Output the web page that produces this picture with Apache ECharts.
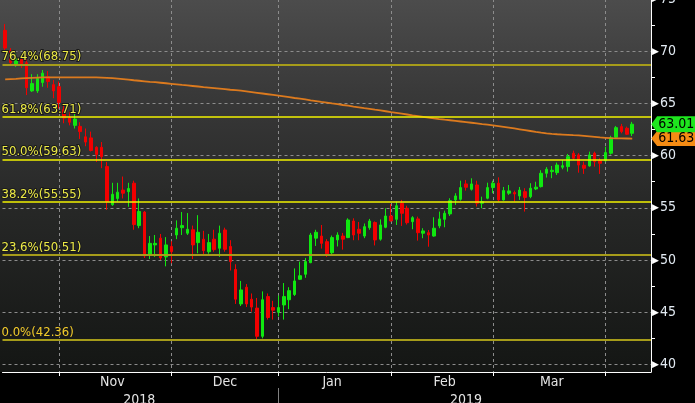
<!DOCTYPE html>
<html><head><meta charset="utf-8">
<script src="https://cdn.jsdelivr.net/npm/echarts@6/dist/echarts.min.js"></script>
<style>html,body{margin:0;padding:0;background:#000;overflow:hidden}#c{width:695px;height:403px}</style>
</head><body><div id="c"></div>
<script>
const dates = [
'2018-10-17','2018-10-18','2018-10-19','2018-10-22','2018-10-23','2018-10-24','2018-10-25','2018-10-26','2018-10-29','2018-10-30','2018-10-31',
'2018-11-01','2018-11-02','2018-11-05','2018-11-06','2018-11-07','2018-11-08','2018-11-09','2018-11-12','2018-11-13','2018-11-14','2018-11-15','2018-11-16','2018-11-19','2018-11-20','2018-11-21','2018-11-23','2018-11-26','2018-11-27','2018-11-28','2018-11-29','2018-11-30',
'2018-12-03','2018-12-04','2018-12-05','2018-12-06','2018-12-07','2018-12-10','2018-12-11','2018-12-12','2018-12-13','2018-12-14','2018-12-17','2018-12-18','2018-12-19','2018-12-20','2018-12-21','2018-12-24','2018-12-26','2018-12-27','2018-12-28','2018-12-31',
'2019-01-02','2019-01-03','2019-01-04','2019-01-07','2019-01-08','2019-01-09','2019-01-10','2019-01-11','2019-01-14','2019-01-15','2019-01-16','2019-01-17','2019-01-18','2019-01-22','2019-01-23','2019-01-24','2019-01-25','2019-01-28','2019-01-29','2019-01-30','2019-01-31',
'2019-02-01','2019-02-04','2019-02-05','2019-02-06','2019-02-07','2019-02-08','2019-02-11','2019-02-12','2019-02-13','2019-02-14','2019-02-15','2019-02-19','2019-02-20','2019-02-21','2019-02-22','2019-02-25','2019-02-26','2019-02-27','2019-02-28',
'2019-03-01','2019-03-04','2019-03-05','2019-03-06','2019-03-07','2019-03-08','2019-03-11','2019-03-12','2019-03-13','2019-03-14','2019-03-15','2019-03-18','2019-03-19','2019-03-20','2019-03-21','2019-03-22','2019-03-25','2019-03-26','2019-03-27','2019-03-28','2019-03-29',
'2019-04-01','2019-04-02','2019-04-03','2019-04-04','2019-04-05','2019-04-08','2019-04-09','2019-04-10'];

const opens = [72.0,70.0,68.7,69.2,68.9,66.2,66.2,67.0,67.55,66.8,
66.6,64.4,63.64,62.9,62.8,61.8,61.7,60.8,60.8,58.95,
55.3,55.9,56.7,56.55,57.36,53.3,54.6,50.5,51.45,52.1,
50.3,51.3,52.4,53.1,52.57,52.9,51.67,52.0,50.8,52.0,
51.13,52.88,51.3,49.1,45.8,47.4,46.25,45.4,42.7,46.5,
45.45,45.0,45.7,46.2,46.7,48.16,48.64,49.75,52.1,52.3,
51.76,50.7,51.93,52.3,52.15,53.74,52.95,52.3,53.1,53.6,
52.0,53.14,54.22,53.9,55.44,54.96,53.68,53.94,52.57,52.62,
52.3,53.27,53.9,54.42,55.76,55.82,57.29,56.78,57.19,55.44,
55.92,56.94,57.36,55.76,56.4,56.46,56.14,56.55,56.07,56.81,
57.03,58.31,58.47,58.37,58.89,58.95,60.23,60.07,59.08,59.01,
60.23,59.52,59.52,60.23,61.76,62.78,62.62,62.14];
const closes = [70.3,68.9,69.3,68.8,66.5,66.9,67.4,67.9,67.1,66.2,
65.1,63.6,63.2,63.5,62.3,61.3,60.5,60.1,59.9,55.6,
56.3,56.5,56.4,56.85,53.4,54.65,50.4,51.6,51.6,50.2,
51.45,50.8,53.05,53.3,52.95,51.45,52.66,50.9,51.67,51.0,
52.57,51.03,49.85,46.25,47.14,45.8,45.5,42.7,46.2,44.5,
45.2,45.45,46.5,47.07,48.0,48.5,49.85,52.4,52.66,51.6,
50.6,52.15,52.4,52.0,53.84,52.4,52.57,53.2,53.74,51.93,
53.36,54.22,53.75,55.2,54.48,53.58,54.06,52.62,52.79,52.4,
53.05,53.94,54.48,55.69,56.14,56.94,56.97,57.29,55.44,55.6,
56.94,57.36,55.76,56.65,56.62,56.33,56.7,56.0,56.88,56.98,
58.31,58.7,58.6,59.1,59.04,59.9,59.75,59.1,58.79,60.07,
59.43,59.27,60.29,61.72,62.68,62.3,62.05,63.01];
const lows = [70.0,68.6,68.5,68.4,65.8,66.1,66.0,66.6,66.5,65.5,
64.5,63.1,62.9,62.6,61.6,60.9,60.4,59.4,58.8,54.8,
55.2,55.6,55.9,55.1,52.9,53.05,50.2,50.1,50.3,50.0,
49.4,49.7,52.0,52.4,52.4,50.1,50.65,50.5,50.6,50.8,
50.3,50.8,49.0,45.8,45.6,45.5,45.06,42.36,42.5,44.3,
44.3,44.6,44.3,45.3,46.56,48.1,48.3,49.7,51.35,51.1,
50.3,50.5,51.3,51.0,52.1,51.9,51.9,52.1,52.9,51.4,
51.86,53.05,53.68,53.36,53.27,53.4,52.95,51.86,52.09,51.28,
52.24,53.05,53.14,54.22,55.28,55.69,56.65,56.65,55.12,54.96,
55.82,56.4,55.6,55.7,56.24,55.6,55.76,54.64,55.92,56.7,
56.95,57.9,57.84,58.15,58.7,58.47,59.59,58.37,58.25,58.95,
58.95,58.25,59.43,60.1,61.7,62.14,61.98,61.88];
const highs = [72.6,70.3,69.9,69.5,69.6,67.8,67.8,68.2,68.1,67.25,
67.1,64.85,64.2,64.1,63.2,62.6,62.3,60.9,61.3,59.4,
57.4,57.4,58.0,57.4,57.6,55.9,54.7,52.3,52.4,52.5,
52.2,51.8,53.8,54.6,54.5,53.3,54.3,52.8,52.5,52.9,
53.3,53.1,51.9,49.6,48.0,47.7,46.8,46.37,47.0,46.8,
46.1,46.6,47.8,47.4,49.2,49.85,50.2,52.6,52.9,53.36,
52.0,52.35,52.66,52.6,54.0,54.0,53.65,53.5,53.94,53.7,
53.9,54.96,55.37,55.6,55.76,55.2,54.2,54.16,53.05,52.88,
54.1,54.64,54.73,55.92,56.4,57.6,57.67,57.83,57.6,56.07,
57.41,57.6,57.92,57.0,57.19,56.65,57.0,56.88,57.36,57.5,
58.6,58.9,59.01,59.33,59.59,60.16,60.48,60.23,59.43,60.38,
60.38,59.75,60.86,61.9,62.84,63.04,62.78,63.23];
const ma200 = [67.3,67.33,67.36,67.4,67.43,67.45,67.47,67.49,67.5,67.5,
67.5,67.5,67.5,67.5,67.5,67.5,67.5,67.49,67.47,67.45,
67.42,67.38,67.33,67.28,67.22,67.17,67.12,67.07,67.03,66.98,
66.93,66.88,66.83,66.77,66.72,66.67,66.62,66.56,66.51,66.46,
66.41,66.36,66.31,66.27,66.23,66.16,66.09,66.02,65.95,65.88,
65.81,65.74,65.67,65.6,65.52,65.45,65.38,65.3,65.23,65.15,
65.08,65.0,64.93,64.85,64.78,64.7,64.63,64.55,64.48,64.4,
64.33,64.25,64.17,64.1,64.02,63.94,63.86,63.79,63.72,63.65,
63.57,63.5,63.44,63.39,63.33,63.27,63.21,63.15,63.09,63.02,
62.96,62.9,62.83,62.76,62.68,62.6,62.52,62.44,62.36,62.27,
62.2,62.14,62.09,62.05,62.02,61.99,61.96,61.94,61.9,61.85,
61.8,61.74,61.71,61.68,61.66,61.65,61.64,61.63];

const fibRatios = ['76.4%','61.8%','50.0%','38.2%','23.6%','0.0%'];
const fibLevels = [68.75, 63.71, 59.63, 55.55, 50.51, 42.36];
const monthLabelDates = ['2018-11-14','2018-12-14','2019-01-15','2019-02-14','2019-03-15'];
const monthLabels = ['Nov','Dec','Jan','Feb','Mar'];
const monthEndDates = ['2018-10-31','2018-11-30','2018-12-31','2019-01-31','2019-02-28','2019-03-29'];
const yearLabelDates = ['2018-11-21','2019-02-21'];
const yearLabels = ['2018','2019'];
const yearBoundaryDates = ['2018-12-31'];
const yTicks = [40,45,50,55,60,65,70,75];
const yMinorTicks = [42.5,47.5,52.5,57.5,62.5,67.5,72.5];
const lastPrice = 63.01;
const lastMA = 61.63;

const FONT = "'Liberation Sans Narrow','DejaVu Sans Condensed','Arial Narrow',sans-serif";
const fibStrong = [true,false,false,false,true,true];

const candleData = opens.map((o,i)=>[o, closes[i], lows[i], highs[i]]);
const lastDate = dates[dates.length-1];

const chart = echarts.init(document.getElementById('c'), null, {renderer:'canvas'});
chart.setOption({
  animation:false,
  backgroundColor:'#000',
  graphic:{elements:[{type:'rect', z:-100, silent:true, shape:{x:0,y:0,width:651,height:372},
    style:{fill:new echarts.graphic.LinearGradient(0,0,0,1,[
      {offset:0,color:'#4c4c4c'},{offset:0.25,color:'#393939'},{offset:0.55,color:'#272827'},{offset:1,color:'#141614'}])}}]},
  grid:{left:2.5,right:44,top:-1,bottom:31,containLabel:false,outerBoundsMode:'none'},
  xAxis:[{
    type:'category', data:dates, boundaryGap:true,
    axisLine:{show:true,lineStyle:{color:'#ffffff',width:1}},
    axisTick:{show:true,alignWithLabel:true,length:4,interval:(i,v)=>monthEndDates.includes(v),lineStyle:{color:'#ffffff'}},
    splitLine:{show:true,alignWithLabel:true,interval:(i,v)=>monthEndDates.includes(v),lineStyle:{color:'#8c8c8c',type:[3,3],width:1}},
    axisLabel:{interval:(i,v)=>monthLabelDates.includes(v),formatter:v=>{const k=monthLabelDates.indexOf(v);return k>=0?monthLabels[k]:'';},
      color:'#e4e4e4',fontSize:14,fontFamily:FONT,margin:3}
  },{
    type:'category', data:dates, boundaryGap:true, position:'bottom', offset:16,
    axisLine:{show:false},
    axisTick:{show:true,alignWithLabel:true,length:16,interval:(i,v)=>yearBoundaryDates.includes(v),lineStyle:{color:'#808080'}},
    splitLine:{show:false},
    axisLabel:{interval:(i,v)=>yearLabelDates.includes(v),formatter:v=>{const k=yearLabelDates.indexOf(v);return k>=0?yearLabels[k]:'';},
      color:'#e4e4e4',fontSize:14,fontFamily:FONT,margin:5}
  }],
  yAxis:[{
    type:'value', position:'right', min:39.28, max:75, splitNumber:7,
    axisLine:{show:true,lineStyle:{color:'#ffffff',width:1}},
    axisTick:{show:false,customValues:yTicks},
    splitLine:{show:true,lineStyle:{color:'#8c8c8c',type:[3,3],width:1}},
    axisLabel:{customValues:yTicks,margin:1,
      formatter:v=>'{t|\u25B6}{v|'+v+'}',
      rich:{t:{fontSize:9,color:'#ffffff',padding:[0,1,0,0]},v:{fontSize:14,color:'#e2eaf2',fontFamily:FONT}}}
  },{
    type:'value', position:'right', min:39.28, max:75, splitNumber:7,
    axisLine:{show:false}, splitLine:{show:false}, axisLabel:{show:false},
    axisTick:{show:true,length:4,customValues:yMinorTicks,lineStyle:{color:'#ffffff'}}
  }],
  series:[{
    type:'candlestick', name:'Price', data:candleData, barWidth:3,
    itemStyle:{color:'#10e810',color0:'#f20000',borderColor:'#10e810',borderColor0:'#f20000',borderWidth:1},
    markLine:{silent:true, symbol:['none','none'], animation:false,
      data:fibLevels.map((lv,i)=>({yAxis:lv,
        lineStyle:{color:fibStrong[i]?'#a69c1a':'#f2f200',width:fibStrong[i]?2.2:1.5,type:'solid'},
        label:{show:true,position:'insideStartTop',distance:[-1,1],formatter:fibRatios[i]+'('+lv.toFixed(2)+')',
          color:i===5?'#f2cc2a':'#ecea46',fontSize:13,fontFamily:FONT,textBorderColor:'#1a1a1a',textBorderWidth:2}}))}
  },{
    type:'line', name:'MA', data:ma200, showSymbol:false, clip:false, z:3,
    lineStyle:{color:'#dc7a1e',width:1.8}, itemStyle:{color:'#dc7a1e'},
    markPoint:{silent:true, animation:false, symbol:'path://M0,6 L6,0 L50,0 L50,12 L6,12 Z', symbolKeepAspect:false,
      data:[
        {coord:[lastDate,lastMA],symbolSize:[48,15],symbolOffset:[27,0],itemStyle:{color:'#f58c14'},
          label:{show:true,position:'inside',offset:[1,0],formatter:lastMA.toFixed(2),color:'#000',fontSize:14,fontFamily:FONT}},
        {coord:[lastDate,lastPrice],symbolSize:[48,16],symbolOffset:[27,0],itemStyle:{color:'#1ee61e'},
          label:{show:true,position:'inside',offset:[1,0],formatter:lastPrice.toFixed(2),color:'#000',fontSize:14,fontFamily:FONT}}
      ]}
  }]
});
</script></body></html>
